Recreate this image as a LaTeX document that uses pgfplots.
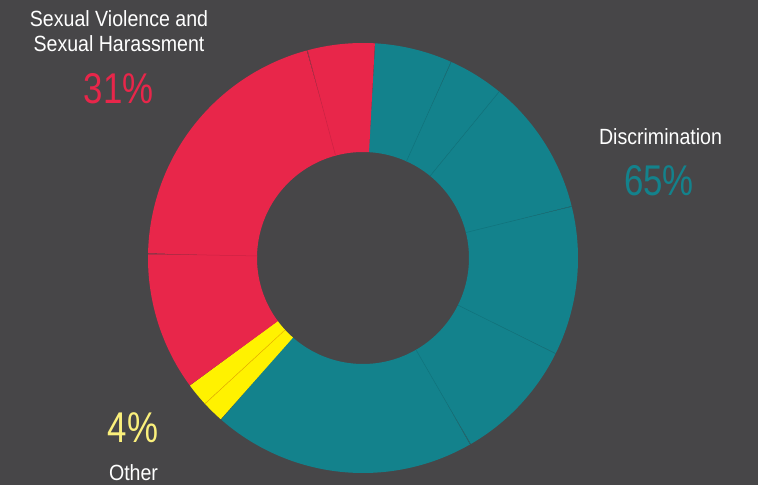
\documentclass[border=0pt]{standalone}
\usepackage{fontspec}
\setmainfont{Liberation Sans}
\newfontfamily\narrow[FakeStretch=0.89]{Liberation Sans}
\newfontfamily\narrowB[FakeStretch=0.81]{Liberation Sans}
\usepackage{pgfplots}
\pgfplotsset{compat=1.18}
\definecolor{bg}{HTML}{474648}
\definecolor{tl}{HTML}{13828C}
\definecolor{tld}{HTML}{10737C}
\definecolor{rd}{HTML}{E8264A}
\definecolor{rdd}{HTML}{CC2243}
\definecolor{yl}{HTML}{FFF200}
\definecolor{yld}{HTML}{E8B000}
\definecolor{ylt}{HTML}{FBF07C}
\begin{document}
\begin{tikzpicture}
\begin{axis}[
  width=758pt, height=485pt, scale only axis,
  xmin=-363, xmax=395, ymin=-227, ymax=258,
  axis line style={draw=none}, xtick=\empty, ytick=\empty,
  axis background/.style={fill=bg},
  seg/.style={data cs=polar, line width=109pt, samples=60, line join=round, mark=none},
  sep/.style={data cs=polar, line width=0.5pt, mark=none},
]
% Discrimination (teal) sub-segments: start and end angle (degrees)
\addplot[seg, tl, domain=65.8:86.8] {160.5};
\addplot[seg, tl, domain=50.7:65.8] {160.5};
\addplot[seg, tl, domain=13.9:50.7] {160.5};
\addplot[seg, tl, domain=-26.4:13.9] {160.5};
\addplot[seg, tl, domain=-60.0:-26.4] {160.5};
\addplot[seg, tl, domain=-131.4:-60.0] {160.5};
% Other (yellow)
\addplot[seg, yl, domain=-137.3:-131.4] {160.5};
\addplot[seg, yl, domain=-143.6:-137.3] {160.5};
% Sexual violence (red)
\addplot[seg, rd, domain=-181.1:-143.6] {160.5};
\addplot[seg, rd, domain=-255.0:-181.1] {160.5};
\addplot[seg, rd, domain=-273.2:-255.0] {160.5};
% separators
\addplot[sep, tld] coordinates {(65.8,106) (65.8,215)};
\addplot[sep, tld] coordinates {(50.7,106) (50.7,215)};
\addplot[sep, tld] coordinates {(13.9,106) (13.9,215)};
\addplot[sep, tld] coordinates {(-26.4,106) (-26.4,215)};
\addplot[sep, tld] coordinates {(-60.0,106) (-60.0,215)};
\addplot[sep, yld] coordinates {(-137.3,106) (-137.3,215)};
\addplot[sep, rdd] coordinates {(-181.1,106) (-181.1,215)};
\addplot[sep, rdd] coordinates {(-255.0,106) (-255.0,215)};
% labels
\node[anchor=base, text=white, font=\narrow\fontsize{22}{26}\selectfont] at (axis cs:-244,231) {Sexual Violence and};
\node[anchor=base, text=white, font=\narrow\fontsize{22}{26}\selectfont] at (axis cs:-244,206) {Sexual Harassment};
\node[anchor=base, text=rd, font=\narrowB\fontsize{43}{48}\selectfont] at (axis cs:-244.5,154) {31\%};
\node[anchor=base, text=white, font=\narrow\fontsize{22}{26}\selectfont] at (axis cs:297.5,113) {Discrimination};
\node[anchor=base, text=tl, font=\narrowB\fontsize{43}{48}\selectfont] at (axis cs:296,62) {65\%};
\node[anchor=base, text=ylt, font=\narrowB\fontsize{43}{48}\selectfont] at (axis cs:-230,-184) {4\%};
\node[anchor=base, text=white, font=\narrow\fontsize{22}{26}\selectfont] at (axis cs:-229.5,-222) {Other};
\end{axis}
\end{tikzpicture}
\end{document}
